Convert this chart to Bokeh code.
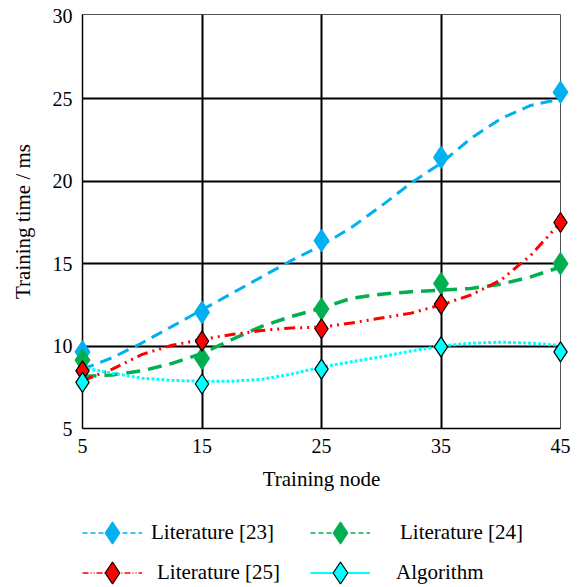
from bokeh.plotting import figure
from bokeh.models import Range1d, FixedTicker, Legend, LegendItem
from bokeh.layouts import column
from bokeh.embed import file_html
from bokeh.resources import INLINE

# ---- data ----
nodes = [5, 15, 25, 35, 45]
lit23 = [9.65, 12.05, 16.4, 21.45, 25.4]
lit24 = [9.15, 9.25, 12.25, 13.8, 15.0]
lit25 = [8.5, 10.3, 11.05, 12.55, 17.5]
algo = [7.8, 7.7, 8.6, 9.95, 9.65]

# smooth trend curves as drawn in the reference (read at every 2.5 nodes)
curve_x = [5, 7.5, 10, 12.5, 15, 17.5, 20, 22.5, 25, 27.5, 30, 32.5, 35, 37.5, 40, 42.5, 45]
curve23 = [8.6, 9.3, 10.2, 11.2, 12.2, 13.2, 14.2, 15.2, 16.1, 17.2, 18.5, 19.9, 21.1, 22.6, 23.8, 24.6, 25.0]
curve24 = [8.15, 8.25, 8.5, 8.95, 9.55, 10.4, 11.2, 11.8, 12.3, 12.9, 13.15, 13.3, 13.4, 13.5, 13.75, 14.2, 14.8]
curve25 = [7.9, 8.6, 9.5, 10.05, 10.4, 10.7, 10.95, 11.1, 11.15, 11.4, 11.7, 12.0, 12.5, 13.1, 14.0, 15.5, 17.5]
curvealg = [8.7, 8.35, 8.05, 7.92, 7.86, 7.87, 7.98, 8.3, 8.73, 9.05, 9.35, 9.7, 10.0, 10.18, 10.24, 10.18, 10.04]

labels = ["Literature [23]", "Literature [24]", "Literature [25]", "Algorithm"]
x_ticks = [5, 15, 25, 35, 45]
y_ticks = [5, 10, 15, 20, 25, 30]

FONT = "Liberation Serif"
BLUE, GREEN, RED, CYAN = "#00B0F0", "#00B050", "#FF0000", "#00FFFF"
W = 572

p = figure(width=W, height=500, output_backend="svg", toolbar_location=None,
           title=None, x_range=Range1d(5, 45), y_range=Range1d(5, 30.12),
           min_border_left=82, min_border_right=12, min_border_top=14,
           min_border_bottom=72)
p.background_fill_color = "white"
p.border_fill_color = "white"
p.outline_line_color = "#555555"
p.outline_line_width = 1

# axes
p.xaxis.ticker = FixedTicker(ticks=x_ticks)
p.yaxis.ticker = FixedTicker(ticks=y_ticks)
for ax in (p.xaxis, p.yaxis):
    ax.axis_line_color = "black"
    ax.axis_line_width = 1.5
    ax.major_tick_line_color = None
    ax.minor_tick_line_color = None
    ax.major_tick_out = 0
    ax.major_tick_in = 0
    ax.minor_tick_out = 0
    ax.minor_tick_in = 0
    ax.major_label_text_font = FONT
    ax.major_label_text_font_size = "20px"
    ax.major_label_text_color = "black"
    ax.axis_label_text_font = FONT
    ax.axis_label_text_font_size = "21px"
    ax.axis_label_text_font_style = "normal"
    ax.axis_label_text_color = "black"
p.xaxis.axis_label = "Training node"
p.yaxis.axis_label = "Training time / ms"
p.xaxis.major_label_standoff = 10
p.xaxis.axis_label_standoff = 11
p.yaxis.major_label_standoff = 10
p.yaxis.axis_label_standoff = 15

# grid
p.xgrid.ticker = FixedTicker(ticks=[15, 25, 35])
p.ygrid.ticker = FixedTicker(ticks=[10, 15, 20, 25])
for g in (p.xgrid, p.ygrid):
    g.grid_line_color = "black"
    g.grid_line_width = 2
    g.grid_line_alpha = 1.0

# curves
p.line(curve_x, curve23, line_color=BLUE, line_width=3, line_dash="12 7")
p.line(curve_x, curve24, line_color=GREEN, line_width=3.5, line_dash="14 8")
p.line(curve_x, curve25, line_color=RED, line_width=3, line_dash="11 5 2 5 2 5")
p.line(curve_x, curvealg, line_color=CYAN, line_width=3, line_dash="3 2")

# markers
marker_specs = [
    (lit23, 22, BLUE, BLUE),
    (lit24, 22, GREEN, GREEN),
    (lit25, 20, RED, "black"),
    (algo, 20, CYAN, "black"),
]
for vals, sz, fc, lc in marker_specs:
    r = p.scatter(nodes, vals, marker="diamond", size=sz, fill_color=fc,
                  line_color=lc, line_width=1.2)
    r.level = "overlay"

# ---- legend strip below the plot ----
lf = figure(width=W, height=87, output_backend="svg", toolbar_location=None,
            title=None, x_axis_type=None, y_axis_type=None,
            x_range=Range1d(0, 1), y_range=Range1d(0, 1),
            min_border_left=0, min_border_right=0, min_border_top=0,
            min_border_bottom=0)
lf.outline_line_color = None
lf.background_fill_color = "white"
lf.border_fill_color = "white"
lf.xgrid.visible = False
lf.ygrid.visible = False

legend_lines = [
    dict(line_color=BLUE, line_width=1.5, line_dash="5 3"),
    dict(line_color=GREEN, line_width=1.5, line_dash="5 3"),
    dict(line_color=RED, line_width=1.5, line_dash="6 2 1 2 1 2"),
    dict(line_color=CYAN, line_width=2),
]
positions = [(0, 27.5), (228, 27.5), (0, -12.5), (228, -12.5)]
standoffs = [9, 30, 15, 26]

for i, text in enumerate(labels):
    vals, sz, fc, lc = marker_specs[i]
    ln = lf.line(nodes, vals, visible=False, **legend_lines[i])
    mk = lf.scatter(nodes, vals, marker="diamond", size=sz, fill_color=fc,
                    line_color=lc, line_width=1.2, visible=False)
    leg = Legend(items=[LegendItem(label=text, renderers=[ln, mk])],
                 location=positions[i], glyph_width=60, glyph_height=55,
                 label_standoff=standoffs[i], padding=0, margin=0, spacing=0,
                 border_line_color=None, background_fill_alpha=0.0,
                 label_text_font=FONT, label_text_font_size="21px",
                 label_text_color="black")
    lf.add_layout(leg)

layout = column(p, lf, spacing=0)
open("out.html", "w").write(file_html(layout, INLINE))
